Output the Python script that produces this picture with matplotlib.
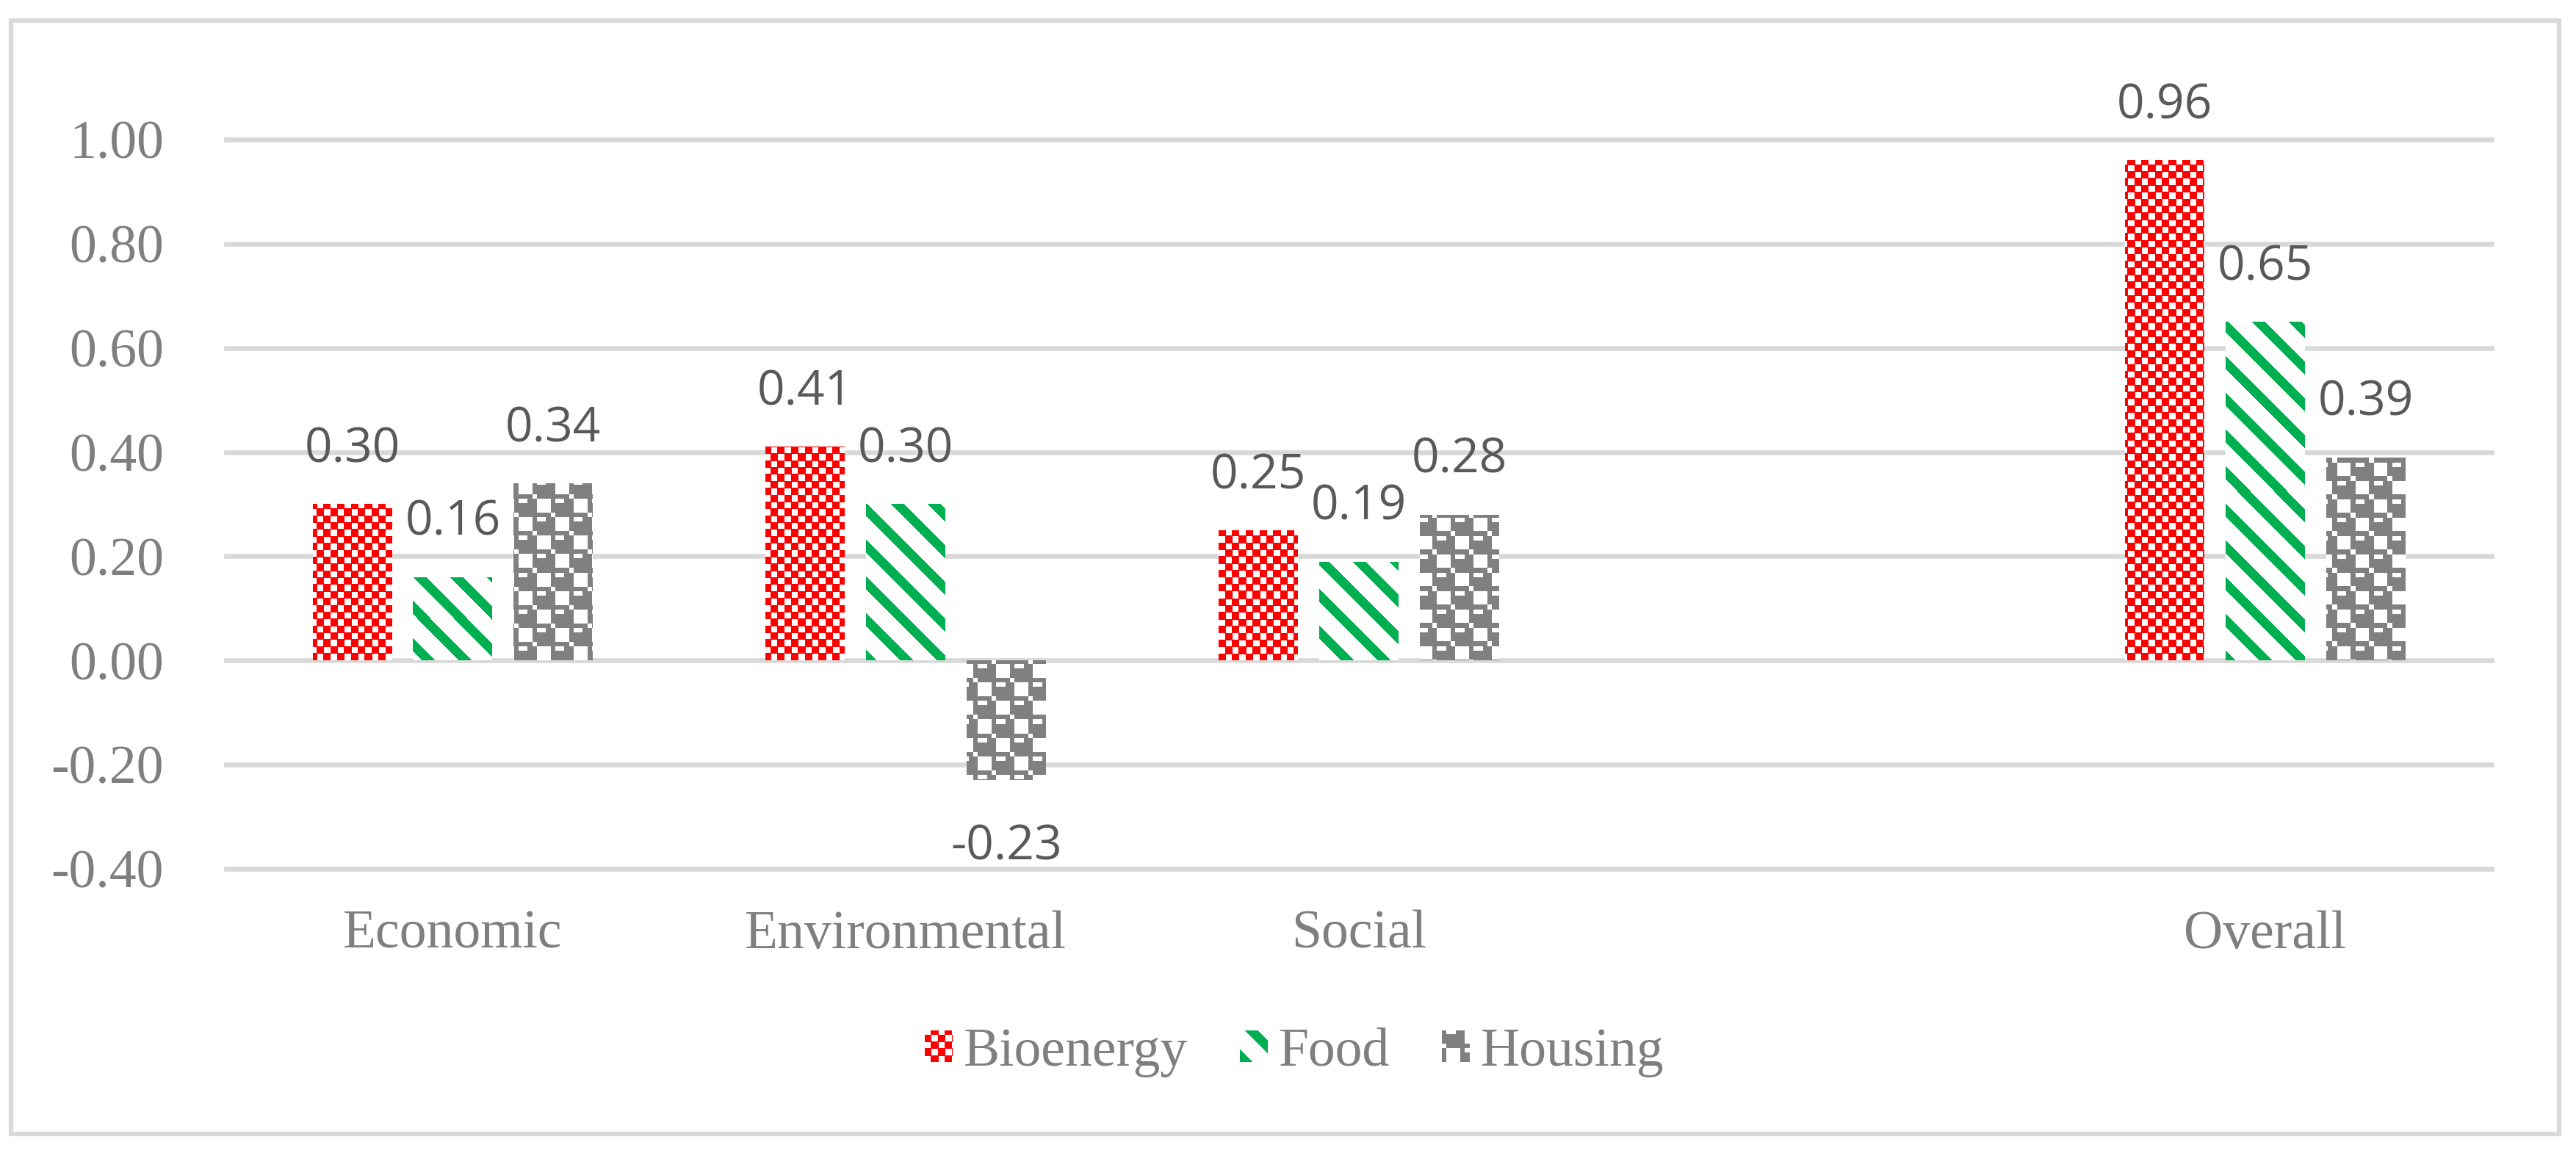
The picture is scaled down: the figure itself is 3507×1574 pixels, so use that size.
"""
Bioenergy / Food / Housing scores by dimension (bar chart with Excel-like pattern fills)
"""
import numpy as np
import matplotlib
matplotlib.use('Agg')
import matplotlib.pyplot as plt
from matplotlib.patches import Rectangle
from matplotlib.image import BboxImage
from matplotlib.transforms import Bbox, TransformedBbox
from matplotlib.legend_handler import HandlerBase

categories = ['Economic', 'Environmental', 'Social', '', 'Overall']
bioenergy = [0.30, 0.41, 0.25, None, 0.96]
food = [0.16, 0.30, 0.19, None, 0.65]
housing = [0.34, -0.23, 0.28, None, 0.39]
series_names = ['Bioenergy', 'Food', 'Housing']
y_ticks = [-0.40, -0.20, 0.00, 0.20, 0.40, 0.60, 0.80, 1.00]

DPI = 300
W_PX, H_PX = 3507, 1574
GRID_C = '#d9d9d9'
AXIS_TXT = '#7f7f7f'
LABEL_TXT = '#595959'
SERIF = 'Liberation Serif'

# gray "sphere" tile, 8x8, one cell = 6.25 px
GRAY_TILE = np.array([
    [1, 1, 1, 1, 0, 1, 1, 1],
    [1, 0, 0, 1, 1, 0, 0, 0],
    [1, 1, 1, 1, 1, 0, 0, 0],
    [1, 1, 1, 1, 1, 0, 0, 0],
    [0, 1, 1, 1, 1, 1, 1, 1],
    [1, 0, 0, 0, 1, 0, 0, 1],
    [1, 0, 0, 0, 1, 1, 1, 1],
    [1, 0, 0, 0, 1, 1, 1, 1],
], dtype=bool)


def pat_red(x, y):
    p = 18.75
    a = (x % p) / p
    b = (y % p) / p
    white = ((a < 0.45) & (b < 0.45)) | ((a >= 0.5) & (a < 0.95) & (b >= 0.5) & (b < 0.95))
    return ~white


def pat_green(x, y):
    # down-right stripes (y counted upwards)
    return ((x + y) % 50.0) < 18.0


def pat_gray(x, y):
    c = (np.floor(x / 6.25).astype(int)) % 8
    r = (np.floor(-y / 6.25).astype(int)) % 8
    return GRAY_TILE[r, c]


def pattern_rgba(func, color, xs, ys):
    """xs: pixel centres left->right, ys: pixel centres top->bottom (y up)"""
    X, Y = np.meshgrid(xs, ys)
    on = func(X, Y)
    rgb = np.array(matplotlib.colors.to_rgb(color))
    img = np.ones(on.shape + (4,))
    img[on, :3] = rgb
    return img


class PatternHandler(HandlerBase):
    def __init__(self, func, color):
        super().__init__()
        self.func = func
        self.color = color

    def create_artists(self, legend, orig_handle, xdescent, ydescent,
                       width, height, fontsize, trans):
        bb = TransformedBbox(Bbox.from_bounds(-xdescent, -ydescent, width, height), trans)
        n = int(round(width * DPI / 72))
        m = int(round(height * DPI / 72))
        img = pattern_rgba(self.func, self.color,
                           np.arange(n) + 0.5, (np.arange(m) + 0.5)[::-1])
        im = BboxImage(bb, interpolation='nearest')
        im.set_data(img)
        return [im]


series = [
    (series_names[0], bioenergy, '#ff0000', pat_red),
    (series_names[1], food, '#00b050', pat_green),
    (series_names[2], housing, '#808080', pat_gray),
]

fig = plt.figure(figsize=(W_PX / DPI, H_PX / DPI), dpi=DPI)
left, right = 308 / W_PX, 3392 / W_PX
bottom, top = 1 - 1183 / H_PX, 1 - 190 / H_PX
ax = fig.add_axes([left, bottom, right - left, top - bottom])

ax.set_xlim(-0.5, len(categories) - 0.5)
ax.set_ylim(y_ticks[0], y_ticks[-1])
ax.set_autoscale_on(False)

for s in ax.spines.values():
    s.set_visible(False)
for t in y_ticks:
    ax.axhline(t, color=GRID_C, lw=1.6, zorder=0, clip_on=False)

bar_w = 0.175
step = 0.222
xpos = np.arange(len(categories))

for i, (name, vals, color, func) in enumerate(series):
    h = np.array(vals, dtype=float)
    xs = xpos + (i - 1) * step
    bars = ax.bar(xs, h, bar_w, color='white', lw=0, zorder=2)
    for x, v, b in zip(xs, h, bars):
        if not np.isfinite(v):
            continue
        # fill the bar with the pixel pattern, anchored to the figure pixel grid
        (px0, py0), (px1, py1) = ax.transData.transform([(x - bar_w / 2, min(0, v)),
                                                         (x + bar_w / 2, max(0, v))])
        nx = max(int(round(px1 - px0)), 1)
        ny = max(int(round(py1 - py0)), 1)
        img = pattern_rgba(func, color, px0 + np.arange(nx) + 0.5,
                           py1 - np.arange(ny) - 0.5)
        im = ax.imshow(img, extent=(x - bar_w / 2, x + bar_w / 2, min(0, v), max(0, v)),
                       aspect='auto', interpolation='nearest', origin='upper', zorder=3)
        im.set_clip_path(b)
        if v >= 0:
            ax.annotate(f'{v:.2f}', xy=(x, v), xytext=(0, 9.8), textcoords='offset points',
                        ha='center', va='bottom', fontfamily='Open Sans', fontsize=15.8,
                        color=LABEL_TXT, zorder=4)
        else:
            ax.annotate(f'{v:.2f}', xy=(x, v), xytext=(0, -14), textcoords='offset points',
                        ha='center', va='top', fontfamily='Open Sans', fontsize=15.8,
                        color=LABEL_TXT, zorder=4)

ax.set_xlim(-0.5, len(categories) - 0.5)
ax.set_ylim(y_ticks[0], y_ticks[-1])

ax.set_yticks(y_ticks, [f'{t:.2f}' for t in y_ticks])
ax.set_xticks(xpos, categories)
ax.tick_params(axis='both', length=0, colors=AXIS_TXT, labelsize=17.7)
ax.tick_params(axis='y', pad=20.4)
ax.tick_params(axis='x', pad=13.5)
for lab in ax.get_xticklabels() + ax.get_yticklabels():
    lab.set_fontfamily(SERIF)

# legend with pattern swatches
handles = [Rectangle((0, 0), 1, 1) for _ in series]
hmap = {hd: PatternHandler(s[3], s[2]) for hd, s in zip(handles, series)}
leg = fig.legend(handles, series_names, handler_map=hmap, loc='center',
                 bbox_to_anchor=(0.5025, 1 - 1433 / H_PX), bbox_transform=fig.transFigure,
                 ncol=3, frameon=False, prop={'family': SERIF, 'size': 17.7},
                 handlelength=0.51, handleheight=0.51, handletextpad=0.21,
                 columnspacing=0.96, borderpad=0)
for t in leg.get_texts():
    t.set_color(AXIS_TXT)

# outer chart border
fig.patches.append(Rectangle((15 / W_PX, 1 - 1544 / H_PX), (3484 - 15) / W_PX,
                             (1544 - 28) / H_PX, transform=fig.transFigure,
                             fill=False, ec=GRID_C, lw=1.5))

fig.savefig('out.png', dpi=DPI, facecolor='white')
